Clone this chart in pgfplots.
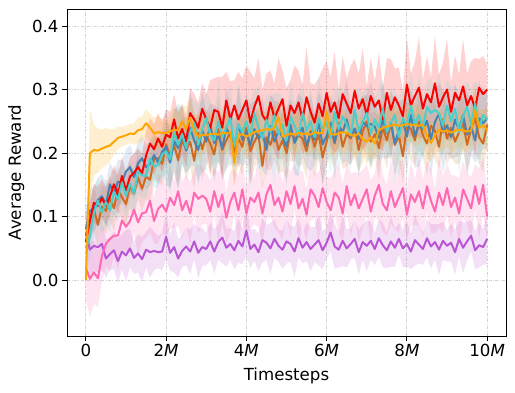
\documentclass[border=0pt]{standalone}
\usepackage{fontspec}
\setmainfont{DejaVu Sans}
\usepackage{pgfplots}
\usepackage{pgfplotstable}
\pgfplotsset{compat=1.18}
\usepgfplotslibrary{fillbetween}
\usetikzlibrary{calc}

\definecolor{cteal}{RGB}{72,209,204}
\definecolor{cblue}{RGB}{70,130,180}
\definecolor{cchoc}{RGB}{210,105,30}
\definecolor{corange}{RGB}{255,165,0}
\definecolor{cpink}{RGB}{255,105,180}
\definecolor{corchid}{RGB}{186,85,211}

% x in millions of timesteps; each series: mean and std
\pgfplotstableread{
x r rs t ts b bs c cs o os p ps m ms
0.0 0.060 0.030 0.050 0.035 0.080 0.035 0.070 0.035 0.000 0.010 0.020 0.050 0.075 0.040
0.1 0.093 0.030 0.068 0.035 0.109 0.035 0.093 0.035 0.200 0.070 0.002 0.060 0.048 0.040
0.2 0.122 0.030 0.106 0.035 0.113 0.035 0.112 0.035 0.205 0.040 0.012 0.050 0.054 0.040
0.3 0.117 0.030 0.125 0.035 0.126 0.035 0.087 0.035 0.204 0.035 0.003 0.045 0.052 0.040
0.4 0.129 0.030 0.106 0.035 0.132 0.035 0.116 0.035 0.207 0.030 0.038 0.040 0.057 0.040
0.5 0.117 0.030 0.123 0.035 0.120 0.035 0.109 0.035 0.210 0.030 0.057 0.035 0.034 0.030
0.6 0.132 0.030 0.110 0.035 0.151 0.035 0.129 0.035 0.212 0.025 0.065 0.050 0.041 0.025
0.7 0.151 0.030 0.139 0.035 0.136 0.035 0.113 0.035 0.218 0.020 0.070 0.035 0.047 0.030
0.8 0.134 0.030 0.127 0.035 0.155 0.035 0.144 0.035 0.224 0.018 0.070 0.055 0.030 0.035
0.9 0.164 0.030 0.154 0.035 0.154 0.035 0.130 0.035 0.226 0.015 0.094 0.045 0.045 0.028
1.0 0.141 0.030 0.133 0.035 0.171 0.035 0.120 0.035 0.228 0.015 0.084 0.040 0.039 0.040
1.1 0.163 0.030 0.152 0.035 0.178 0.035 0.148 0.035 0.231 0.015 0.093 0.050 0.050 0.030
1.2 0.169 0.030 0.137 0.035 0.162 0.035 0.136 0.035 0.230 0.017 0.111 0.035 0.035 0.025
1.3 0.178 0.030 0.171 0.035 0.184 0.035 0.162 0.035 0.236 0.020 0.091 0.055 0.042 0.030
1.4 0.168 0.030 0.165 0.035 0.192 0.035 0.144 0.035 0.238 0.020 0.105 0.045 0.033 0.035
1.5 0.196 0.040 0.164 0.035 0.178 0.035 0.163 0.035 0.247 0.022 0.107 0.040 0.048 0.028
1.6 0.215 0.040 0.192 0.035 0.183 0.035 0.158 0.035 0.240 0.022 0.125 0.050 0.044 0.040
1.7 0.206 0.040 0.179 0.035 0.197 0.035 0.191 0.035 0.231 0.025 0.093 0.035 0.046 0.030
1.8 0.223 0.040 0.181 0.035 0.185 0.035 0.192 0.035 0.233 0.025 0.112 0.055 0.044 0.025
1.9 0.210 0.040 0.198 0.035 0.202 0.035 0.183 0.035 0.232 0.022 0.119 0.045 0.045 0.030
2.0 0.229 0.040 0.203 0.040 0.210 0.060 0.214 0.035 0.232 0.020 0.108 0.040 0.068 0.035
2.1 0.225 0.040 0.190 0.055 0.185 0.040 0.195 0.050 0.234 0.025 0.130 0.050 0.043 0.028
2.2 0.253 0.040 0.233 0.035 0.219 0.050 0.212 0.040 0.237 0.035 0.118 0.035 0.052 0.040
2.3 0.223 0.040 0.213 0.065 0.208 0.065 0.189 0.045 0.236 0.030 0.140 0.055 0.034 0.030
2.4 0.238 0.040 0.230 0.045 0.228 0.045 0.221 0.035 0.250 0.025 0.110 0.045 0.046 0.025
2.5 0.218 0.040 0.208 0.040 0.204 0.035 0.206 0.050 0.238 0.035 0.125 0.040 0.053 0.030
2.6 0.263 0.040 0.233 0.055 0.240 0.060 0.218 0.040 0.256 0.030 0.105 0.050 0.045 0.035
2.7 0.253 0.040 0.248 0.035 0.220 0.040 0.188 0.045 0.236 0.025 0.138 0.035 0.061 0.028
2.8 0.240 0.040 0.213 0.065 0.205 0.050 0.232 0.035 0.226 0.035 0.128 0.055 0.043 0.040
2.9 0.270 0.040 0.238 0.045 0.236 0.065 0.206 0.050 0.229 0.030 0.133 0.045 0.052 0.030
3.0 0.253 0.040 0.255 0.040 0.218 0.045 0.228 0.040 0.228 0.025 0.128 0.040 0.049 0.025
3.1 0.240 0.075 0.230 0.055 0.243 0.035 0.215 0.045 0.230 0.035 0.108 0.050 0.061 0.030
3.2 0.268 0.050 0.220 0.035 0.216 0.060 0.198 0.035 0.231 0.030 0.140 0.035 0.045 0.035
3.3 0.265 0.055 0.250 0.065 0.229 0.040 0.238 0.050 0.229 0.025 0.115 0.055 0.060 0.028
3.4 0.240 0.080 0.225 0.045 0.207 0.050 0.205 0.040 0.232 0.035 0.135 0.045 0.067 0.040
3.5 0.283 0.045 0.240 0.040 0.240 0.065 0.220 0.045 0.231 0.030 0.098 0.040 0.051 0.030
3.6 0.253 0.060 0.255 0.055 0.227 0.045 0.233 0.035 0.233 0.025 0.123 0.050 0.057 0.025
3.7 0.275 0.040 0.213 0.035 0.214 0.035 0.200 0.050 0.185 0.035 0.138 0.035 0.047 0.030
3.8 0.253 0.075 0.245 0.065 0.245 0.060 0.223 0.040 0.228 0.030 0.110 0.055 0.062 0.035
3.9 0.268 0.050 0.233 0.045 0.221 0.040 0.210 0.045 0.230 0.025 0.143 0.045 0.053 0.028
4.0 0.283 0.055 0.250 0.040 0.234 0.050 0.240 0.035 0.226 0.035 0.105 0.040 0.078 0.040
4.1 0.248 0.080 0.228 0.055 0.212 0.065 0.203 0.050 0.229 0.030 0.130 0.050 0.049 0.030
4.2 0.273 0.045 0.263 0.035 0.238 0.045 0.218 0.040 0.233 0.025 0.123 0.035 0.056 0.025
4.3 0.290 0.060 0.240 0.065 0.223 0.035 0.230 0.045 0.235 0.035 0.138 0.055 0.044 0.030
4.4 0.260 0.040 0.223 0.045 0.232 0.060 0.180 0.035 0.236 0.030 0.105 0.045 0.063 0.035
4.5 0.250 0.075 0.253 0.040 0.205 0.040 0.225 0.050 0.238 0.025 0.135 0.040 0.059 0.028
4.6 0.280 0.050 0.233 0.055 0.243 0.050 0.213 0.040 0.237 0.035 0.150 0.050 0.050 0.040
4.7 0.255 0.055 0.260 0.035 0.218 0.065 0.235 0.045 0.240 0.030 0.118 0.035 0.065 0.030
4.8 0.270 0.080 0.230 0.065 0.236 0.045 0.205 0.035 0.257 0.025 0.130 0.055 0.054 0.025
4.9 0.285 0.045 0.245 0.045 0.225 0.035 0.220 0.050 0.226 0.035 0.108 0.045 0.048 0.030
5.0 0.243 0.060 0.220 0.040 0.210 0.060 0.200 0.040 0.228 0.030 0.140 0.040 0.061 0.035
5.1 0.275 0.040 0.258 0.055 0.245 0.040 0.233 0.045 0.231 0.025 0.120 0.050 0.057 0.028
5.2 0.263 0.075 0.243 0.035 0.216 0.050 0.223 0.035 0.229 0.035 0.148 0.035 0.045 0.040
5.3 0.280 0.050 0.228 0.065 0.229 0.065 0.228 0.050 0.232 0.030 0.113 0.055 0.066 0.030
5.4 0.253 0.055 0.263 0.045 0.240 0.045 0.223 0.040 0.230 0.025 0.128 0.045 0.051 0.025
5.5 0.288 0.080 0.235 0.040 0.212 0.035 0.203 0.045 0.231 0.035 0.103 0.040 0.060 0.030
5.6 0.265 0.045 0.250 0.055 0.232 0.060 0.235 0.035 0.229 0.030 0.143 0.050 0.049 0.035
5.7 0.248 0.060 0.225 0.035 0.221 0.040 0.210 0.050 0.233 0.025 0.133 0.035 0.056 0.028
5.8 0.278 0.040 0.255 0.065 0.247 0.050 0.230 0.040 0.231 0.035 0.115 0.055 0.063 0.040
5.9 0.258 0.075 0.238 0.045 0.214 0.065 0.193 0.045 0.232 0.030 0.145 0.045 0.047 0.030
6.0 0.295 0.050 0.248 0.040 0.227 0.045 0.218 0.035 0.265 0.025 0.123 0.040 0.059 0.025
6.1 0.265 0.055 0.223 0.055 0.248 0.035 0.243 0.050 0.230 0.035 0.110 0.050 0.075 0.030
6.2 0.280 0.080 0.265 0.035 0.217 0.060 0.215 0.040 0.229 0.030 0.138 0.035 0.053 0.035
6.3 0.255 0.045 0.238 0.065 0.244 0.040 0.248 0.045 0.231 0.025 0.130 0.055 0.048 0.028
6.4 0.293 0.060 0.258 0.045 0.233 0.050 0.210 0.035 0.233 0.035 0.105 0.045 0.062 0.040
6.5 0.278 0.040 0.245 0.040 0.253 0.065 0.230 0.050 0.232 0.030 0.148 0.040 0.050 0.030
6.6 0.263 0.075 0.228 0.055 0.226 0.045 0.223 0.040 0.229 0.025 0.118 0.050 0.057 0.025
6.7 0.298 0.050 0.268 0.035 0.239 0.035 0.238 0.045 0.227 0.035 0.135 0.035 0.065 0.030
6.8 0.270 0.055 0.235 0.065 0.222 0.060 0.205 0.035 0.231 0.030 0.113 0.055 0.044 0.035
6.9 0.285 0.080 0.250 0.045 0.250 0.040 0.235 0.050 0.222 0.025 0.128 0.045 0.060 0.028
7.0 0.260 0.045 0.263 0.040 0.242 0.050 0.250 0.040 0.218 0.035 0.143 0.040 0.054 0.040
7.1 0.290 0.060 0.230 0.055 0.246 0.065 0.218 0.045 0.225 0.030 0.108 0.050 0.062 0.030
7.2 0.273 0.040 0.253 0.035 0.242 0.045 0.230 0.035 0.215 0.025 0.133 0.035 0.049 0.025
7.3 0.283 0.075 0.240 0.065 0.224 0.035 0.208 0.050 0.236 0.035 0.150 0.055 0.066 0.030
7.4 0.253 0.050 0.270 0.045 0.253 0.060 0.240 0.040 0.240 0.030 0.120 0.045 0.055 0.035
7.5 0.295 0.055 0.233 0.040 0.231 0.040 0.220 0.045 0.242 0.025 0.110 0.040 0.047 0.028
7.6 0.268 0.080 0.248 0.055 0.248 0.050 0.248 0.035 0.243 0.035 0.140 0.050 0.061 0.040
7.7 0.288 0.045 0.260 0.035 0.215 0.065 0.213 0.050 0.245 0.030 0.115 0.035 0.051 0.030
7.8 0.275 0.060 0.225 0.065 0.237 0.045 0.228 0.040 0.243 0.025 0.130 0.055 0.065 0.025
7.9 0.258 0.040 0.255 0.045 0.250 0.035 0.195 0.045 0.244 0.035 0.145 0.045 0.050 0.030
8.0 0.308 0.075 0.243 0.040 0.226 0.060 0.243 0.035 0.246 0.030 0.103 0.040 0.057 0.035
8.1 0.275 0.050 0.275 0.055 0.260 0.040 0.238 0.050 0.244 0.025 0.135 0.050 0.045 0.028
8.2 0.290 0.055 0.245 0.035 0.227 0.050 0.220 0.040 0.245 0.035 0.123 0.035 0.063 0.040
8.3 0.303 0.080 0.260 0.065 0.244 0.065 0.250 0.045 0.243 0.030 0.140 0.055 0.056 0.030
8.4 0.270 0.045 0.240 0.045 0.238 0.045 0.228 0.035 0.245 0.025 0.113 0.045 0.049 0.025
8.5 0.293 0.060 0.273 0.040 0.251 0.035 0.215 0.050 0.226 0.035 0.148 0.040 0.066 0.030
8.6 0.280 0.040 0.263 0.055 0.222 0.060 0.243 0.040 0.216 0.030 0.125 0.050 0.053 0.035
8.7 0.310 0.075 0.268 0.035 0.249 0.040 0.235 0.045 0.228 0.025 0.108 0.035 0.060 0.028
8.8 0.273 0.050 0.263 0.065 0.262 0.050 0.210 0.035 0.237 0.035 0.138 0.055 0.048 0.040
8.9 0.288 0.055 0.243 0.045 0.233 0.065 0.253 0.050 0.234 0.030 0.118 0.045 0.062 0.030
9.0 0.300 0.080 0.275 0.040 0.244 0.045 0.223 0.040 0.236 0.025 0.145 0.040 0.054 0.025
9.1 0.265 0.045 0.250 0.055 0.225 0.035 0.240 0.045 0.232 0.035 0.115 0.050 0.059 0.030
9.2 0.295 0.060 0.270 0.035 0.253 0.060 0.218 0.035 0.235 0.030 0.130 0.035 0.044 0.035
9.3 0.283 0.040 0.233 0.065 0.236 0.040 0.233 0.050 0.237 0.025 0.105 0.055 0.065 0.028
9.4 0.305 0.075 0.258 0.045 0.260 0.050 0.248 0.040 0.236 0.035 0.143 0.045 0.051 0.040
9.5 0.275 0.050 0.273 0.040 0.229 0.065 0.213 0.045 0.234 0.030 0.128 0.040 0.061 0.030
9.6 0.290 0.055 0.245 0.055 0.242 0.045 0.238 0.035 0.235 0.025 0.113 0.050 0.070 0.025
9.7 0.270 0.080 0.278 0.035 0.220 0.035 0.255 0.050 0.268 0.035 0.148 0.035 0.047 0.030
9.8 0.303 0.045 0.240 0.065 0.255 0.060 0.225 0.040 0.240 0.030 0.120 0.055 0.055 0.035
9.9 0.293 0.060 0.260 0.045 0.247 0.040 0.215 0.045 0.244 0.025 0.150 0.045 0.052 0.028
10.0 0.300 0.040 0.253 0.040 0.255 0.050 0.245 0.035 0.236 0.035 0.100 0.040 0.065 0.040
}\data

\newcommand{\band}[3]{%
  \addplot[draw=none, name path=#1U] table[x=x, y expr=\thisrow{#1}+\thisrow{#1s}]{\data};
  \addplot[draw=none, name path=#1L] table[x=x, y expr=\thisrow{#1}-\thisrow{#1s}]{\data};
  \addplot[fill=#2, fill opacity=#3, draw=none] fill between[of=#1U and #1L];
}
\newcommand{\mean}[2]{%
  \addplot[#2, line width=2bp, line join=round] table[x=x, y=#1]{\data};
}

\begin{document}
\begin{tikzpicture}
\begin{axis}[
  scale only axis,
  width=439bp, height=327bp,
  xmin=-0.47, xmax=10.47,
  ymin=-0.088, ymax=0.427,
  xtick={0,2,4,6,8,10},
  xticklabels={0, 2\textit{M}, 4\textit{M}, 6\textit{M}, 8\textit{M}, 10\textit{M}},
  ytick={0,0.1,0.2,0.3,0.4},
  yticklabel={\pgfmathprintnumber[fixed,fixed zerofill,precision=1,assume math mode=true]{\tick}},
  tick pos=left,
  tick align=outside,
  major tick length=4.9bp,
  every tick/.style={black, line width=1bp},
  axis line style={black, line width=0.9bp},
  grid=major,
  grid style={gray!35, line width=0.8bp, dash pattern=on 3bp off 1.5bp on 0.8bp off 1.5bp},
  tick label style={font=\fontsize{16.7}{20}\selectfont},
  xlabel={Timesteps},
  ylabel={Average Reward},
  every axis x label/.style={at={(axis description cs:0.5,0)}, yshift=-44bp, anchor=base, font=\fontsize{16.7}{20}\selectfont},
  every axis y label/.style={at={(axis description cs:0,0.5)}, xshift=-46bp, rotate=90, anchor=base, font=\fontsize{16.7}{20}\selectfont},
]
\band{m}{corchid}{0.18}
\band{p}{cpink}{0.18}
\band{c}{cchoc}{0.15}
\band{b}{cblue}{0.15}
\band{r}{red}{0.18}
\band{t}{cteal}{0.15}
\band{o}{corange}{0.18}
\mean{m}{corchid}
\mean{p}{cpink}
\mean{c}{cchoc}
\mean{b}{cblue}
\mean{r}{red}
\mean{t}{cteal}
\mean{o}{corange}
\end{axis}
\pgfresetboundingbox
\path ($(current axis.south west)+(-67bp,-57bp)$) rectangle ($(current axis.north east)+(9bp,9bp)$);
\end{tikzpicture}
\end{document}
